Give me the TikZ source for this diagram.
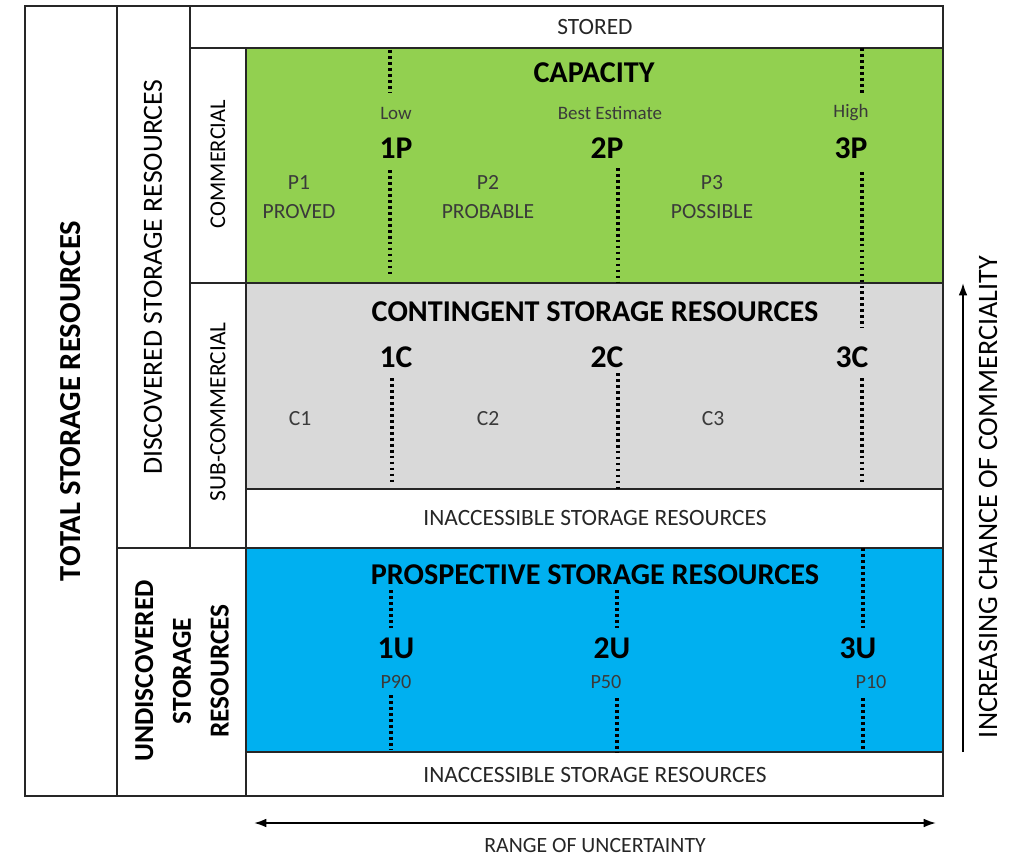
\documentclass[tikz,border=0pt]{standalone}
\usepackage{fontspec}
\setmainfont{Carlito}
\definecolor{capgreen}{HTML}{92D050}
\definecolor{congrey}{HTML}{D9D9D9}
\definecolor{prosblue}{HTML}{00B0F0}
\definecolor{labgrey}{HTML}{3A3A3A}
\tikzset{
  cell/.style={draw=black!85,line width=1.1pt},
  title/.style={font=\fontsize{17.2}{20}\selectfont\bfseries},
  grade/.style={font=\fontsize{18}{20}\selectfont\bfseries},
  cat/.style={font=\fontsize{12.3}{16.5}\selectfont,text=labgrey,align=center},
  est/.style={font=\fontsize{10.8}{12}\selectfont,text=labgrey},
  band/.style={font=\fontsize{13.3}{15}\selectfont,text=black!85},
  side/.style={rotate=90,align=center},
  cutoff/.style={line width=1.9pt,dash pattern=on 1.6pt off 1.8pt},
  axis/.style={line width=1.1pt,-{Latex[length=7pt,width=5pt]}}
}
\usetikzlibrary{arrows.meta}
\begin{document}
\begin{tikzpicture}[x=0.02cm,y=-0.02cm]
\useasboundingbox (0,0) rectangle (1013,855);
\fill[capgreen] (246,48) rectangle (943,283);
\fill[congrey] (246,283) rectangle (943,489);
\fill[prosblue] (246,548) rectangle (943,752);
\draw[cell] (25,6) rectangle (117,796);
\draw[cell] (117,6) rectangle (190,548);
\draw[cell] (117,548) rectangle (246,796);
\draw[cell] (190,6) rectangle (943,48);
\draw[cell] (190,48) rectangle (246,283);
\draw[cell] (190,283) rectangle (246,548);
\draw[cell] (246,48) rectangle (943,283);
\draw[cell] (246,283) rectangle (943,489);
\draw[cell] (246,489) rectangle (943,548);
\draw[cell] (246,548) rectangle (943,752);
\draw[cell] (246,752) rectangle (943,796);
\draw[cutoff] (390,50) -- (390,93) (390,170) -- (390,277)
  (618,168) -- (618,282)
  (862,48) -- (862,93) (862,172) -- (862,328);
\draw[cutoff] (392,378) -- (392,484) (618,373) -- (618,489) (862,378) -- (862,484);
\draw[cutoff] (391,590) -- (391,628) (391,695) -- (391,750)
  (617,590) -- (617,628) (617,698) -- (617,752)
  (863,548) -- (863,630) (863,698) -- (863,750);
\node[band] (stored) at (595,27) {STORED};
\node[title] (capacity) at (594,73) {CAPACITY};
\node[est] (low) at (396,113) {Low};
\node[est] (best) at (610,113) {Best Estimate};
\node[est] (high) at (851,113) {High};
\node[grade] (p1g) at (396,148) {1P};
\node[grade] (p2g) at (607,148) {2P};
\node[grade] (p3g) at (851,148) {3P};
\node[cat] (proved) at (299,197) {P1\\PROVED};
\node[cat] (probable) at (488,197) {P2\\PROBABLE};
\node[cat] (possible) at (712,197) {P3\\POSSIBLE};
\node[title] (contingent) at (595,312) {CONTINGENT STORAGE RESOURCES};
\node[grade] (c1g) at (396,357) {1C};
\node[grade] (c2g) at (607,357) {2C};
\node[grade] (c3g) at (852,357) {3C};
\node[cat] (c1) at (300,419) {C1};
\node[cat] (c2) at (488,419) {C2};
\node[cat] (c3) at (713,419) {C3};
\node[band] (inaccone) at (595,518) {INACCESSIBLE STORAGE RESOURCES};
\node[title] (prospective) at (595,575) {PROSPECTIVE STORAGE RESOURCES};
\node[grade] (u1g) at (396,648) {1U};
\node[grade] (u2g) at (612,648) {2U};
\node[grade] (u3g) at (858,648) {3U};
\node[est,font=\fontsize{11.5}{13}\selectfont] (p90) at (396,682) {P90};
\node[est,font=\fontsize{11.5}{13}\selectfont] (p50) at (606,682) {P50};
\node[est,font=\fontsize{11.5}{13}\selectfont] (p10) at (871,682) {P10};
\node[band] (inacctwo) at (595,775) {INACCESSIBLE STORAGE RESOURCES};
\node[side,font=\fontsize{17.4}{20}\selectfont\bfseries] (total) at (71,401) {TOTAL STORAGE RESOURCES};
\node[side,font=\fontsize{15.8}{18}\selectfont] (discovered) at (153,277) {DISCOVERED STORAGE RESOURCES};
\node[side,font=\fontsize{12.8}{14}\selectfont] (commercial) at (218,164) {COMMERCIAL};
\node[side,font=\fontsize{13.3}{15}\selectfont] (subcommercial) at (218,412) {SUB-COMMERCIAL};
\node[side,font=\fontsize{15.6}{21.5}\selectfont\bfseries] (undiscovered) at (182,671) {UNDISCOVERED\\STORAGE\\RESOURCES};
\node[side,font=\fontsize{16}{18}\selectfont] (commerciality) at (988,497) {INCREASING CHANCE OF COMMERCIALITY};
\node[band,font=\fontsize{12.4}{14}\selectfont] (uncertainty) at (595,845) {RANGE OF UNCERTAINTY};
\coordinate (chancelow) at (963,752);
\coordinate (chancehigh) at (963,283);
\coordinate (rangelow) at (254,823);
\coordinate (rangehigh) at (936,823);
\draw[axis] (chancelow) -- (chancehigh);
\draw[axis,{Latex[length=7pt,width=5pt]}-{Latex[length=7pt,width=5pt]}] (rangelow) -- (rangehigh);
\end{tikzpicture}
\end{document}
